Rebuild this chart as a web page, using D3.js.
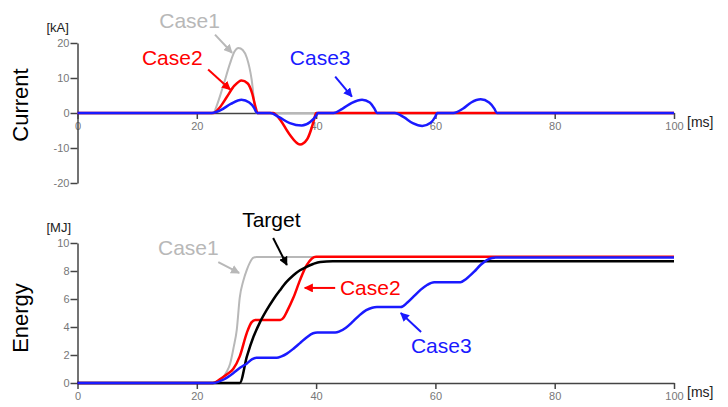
<!DOCTYPE html>
<html>
<head>
<meta charset="utf-8">
<script src="https://cdn.jsdelivr.net/npm/d3@7"></script>
<style>
  body { margin: 0; background: #fff; }
  svg { display: block; font-family: "Liberation Sans", Arial, sans-serif; }
  .tick text { fill: #777; font-size: 11px; }
  .domain, .tick line { stroke: #444; stroke-width: 1.5; }
</style>
</head>
<body>
<div id="chart"></div>
<script>
// time axis [ms]
const timeTicks = [0, 20, 40, 60, 80, 100];
const currentTicks = [-20, -10, 0, 10, 20];
const energyTicks = [0, 2, 4, 6, 8, 10];

// current [kA] as [ms, kA]
const case1Current = [[0,0],[22.8,0],[23.3,1.9],[24.4,7.6],[25.6,14.3],[26.3,17.5],[27,18.6],[27.7,18],[28.4,15.7],[29.2,9.5],[29.8,1],[30,0],[100,0]];
const case2Current = [[0,0],[22.8,0],[23.8,1.5],[25,4.5],[26.3,7.8],[27.5,9.3],[28.5,8.5],[29.3,5.5],[29.8,2],[30.2,0],[32.8,0],[34,-2],[35.5,-6],[37.3,-9],[38.5,-7.5],[39.3,-4],[39.8,-1],[40,0],[100,0]];
const case3Current = [[0,0],[22.5,0],[24,0.8],[25.7,2.6],[27.5,3.8],[28.8,3],[29.6,1.5],[30.1,0],[32.3,0],[33.8,-1.2],[35.6,-2.9],[37.6,-3.6],[39,-2.6],[40,-0.8],[40.3,0],[42.9,0],[44.4,1.2],[46,2.9],[47.7,3.8],[49,3],[49.8,1.2],[50.2,0],[53.2,0],[54.7,-1.2],[56.2,-2.9],[57.8,-3.7],[59.2,-2.8],[60,-1],[60.3,0],[63,0],[64.6,1.2],[66,3],[67.6,3.9],[69,3],[69.9,1.2],[70.3,0],[100,0]];

// energy [MJ] as [ms, MJ]
const case1Energy = [[0,0],[22.7,0],[23.5,0.15],[24.4,0.4],[25,0.8],[25.6,1.4],[26.2,2.6],[26.7,3.8],[27.2,6.1],[27.8,7.3],[28.4,8.1],[28.9,8.6],[29.5,8.95],[30,9],[100,9]];
const case2Energy = [[0,0],[22.7,0],[24,0.3],[25,0.6],[26.1,1.0],[27.2,1.9],[28.4,3.6],[29.2,4.35],[29.8,4.5],[34,4.5],[34.6,4.7],[35.1,5.1],[36.2,6.1],[37.3,7.35],[38.4,8.4],[39.3,8.9],[40,9.02],[100,9.02]];
const targetEnergy = [[0,0],[27.2,0],[28.4,1.9],[29.5,3.3],[30.6,4.35],[31.7,5.2],[32.8,5.95],[33.9,6.6],[35,7.2],[36.2,7.7],[37.3,8.05],[38.4,8.3],[39.5,8.5],[40.7,8.65],[42.8,8.7],[100,8.7]];
const case3Energy = [[0,0],[22.7,0],[24.5,0.25],[26.1,0.7],[27.3,1.1],[28.4,1.4],[29.3,1.7],[30,1.8],[33.4,1.8],[34.2,1.9],[35.1,2.1],[36.2,2.45],[37.3,2.85],[38.4,3.25],[39.5,3.55],[40.2,3.6],[43.2,3.6],[44,3.7],[45,3.95],[46.2,4.4],[47.3,4.85],[48.4,5.2],[49.4,5.38],[50.2,5.42],[54.2,5.42],[55.3,5.75],[56.4,6.2],[57.5,6.65],[58.6,7.0],[59.8,7.2],[64.2,7.2],[65.2,7.45],[66.5,7.95],[67.6,8.45],[68.7,8.8],[69.5,8.93],[70.1,8.97],[100,8.97]];

const width = 728, height = 407;
const colors = { case1: "#b8b8b8", case2: "#ff0000", case3: "#1a1aff", target: "#000" };

const svg = d3.select("#chart").append("svg")
  .attr("width", width).attr("height", height);

// arrow heads, one per colour
const defs = svg.append("defs");
Object.entries(colors).forEach(([k, c]) => {
  defs.append("marker")
    .attr("id", "head-" + k)
    .attr("viewBox", "0 0 10 10")
    .attr("refX", 9).attr("refY", 5)
    .attr("markerWidth", 4.5).attr("markerHeight", 4.5)
    .attr("markerUnits", "strokeWidth")
    .attr("orient", "auto")
    .append("path").attr("d", "M0,0L10,5L0,10z").attr("fill", c);
});

const x = d3.scaleLinear().domain([0, 100]).range([77.5, 674]);
const yCur = d3.scaleLinear().domain([-20, 20]).range([183, 43]);
const yEn = d3.scaleLinear().domain([0, 10]).range([383, 243]);

function panel(y, yTicks, series, unit, label, labelY, notes) {
  const g = svg.append("g");

  g.append("g")
    .attr("transform", `translate(0,${y(0)})`)
    .call(d3.axisBottom(x).tickValues(timeTicks).tickFormat(d => String(d))
      .tickSize(6).tickPadding(3).tickSizeOuter(0));

  g.append("g")
    .attr("transform", `translate(${x(0)},0)`)
    .call(d3.axisLeft(y).tickValues(yTicks).tickFormat(d => String(d))
      .tickSize(7).tickPadding(1).tickSizeOuter(0));

  const line = d3.line().x(d => x(d[0])).y(d => y(d[1])).curve(d3.curveMonotoneX);

  g.selectAll("path.series")
    .data(series)
    .join("path")
    .attr("class", "series")
    .attr("d", d => line(d.values))
    .attr("fill", "none")
    .attr("stroke", d => colors[d.key])
    .attr("stroke-width", d => d.key === "case1" ? 2 : 2.5)
    .attr("stroke-linejoin", "round");

  g.append("text")
    .attr("x", x(0) - 31).attr("y", y(yTicks[yTicks.length - 1]) - 11)
    .attr("font-size", 13).attr("fill", "#222")
    .text(unit);

  g.append("text")
    .attr("x", x(100) + 13).attr("y", y(0) + 14)
    .attr("font-size", 14).attr("fill", "#222")
    .text("[ms]");

  g.append("text")
    .attr("transform", `translate(28,${labelY}) rotate(-90)`)
    .attr("text-anchor", "middle")
    .attr("font-size", 22).attr("fill", "#000")
    .text(label);

  notes.forEach(n => {
    g.append("line")
      .attr("x1", x(n.from[0])).attr("y1", y(n.from[1]))
      .attr("x2", x(n.to[0])).attr("y2", y(n.to[1]))
      .attr("stroke", colors[n.key]).attr("stroke-width", 2)
      .attr("marker-end", `url(#head-${n.key})`);
    g.append("text")
      .attr("x", x(n.text[0])).attr("y", y(n.text[1]))
      .attr("font-size", 21).attr("fill", colors[n.key])
      .text(n.label);
  });
}

panel(yCur, currentTicks, [
  { key: "case1", values: case1Current },
  { key: "case2", values: case2Current },
  { key: "case3", values: case3Current }
], "[kA]", "Current", 105, [
  { key: "case1", label: "Case1", text: [13.7, 24.4], from: [23.05, 22.4], to: [25.9, 17.2] },
  { key: "case2", label: "Case2", text: [10.8, 13.8], from: [21.9, 12.4], to: [25.6, 6.7] },
  { key: "case3", label: "Case3", text: [35.6, 13.8], from: [43.2, 10.4], to: [46, 4.7] }
]);

panel(yEn, energyTicks, [
  { key: "case1", values: case1Energy },
  { key: "case2", values: case2Energy },
  { key: "target", values: targetEnergy },
  { key: "case3", values: case3Energy }
], "[MJ]", "Energy", 318, [
  { key: "target", label: "Target", text: [27.6, 11.14], from: [32.8, 10.36], to: [35.1, 8.43] },
  { key: "case1", label: "Case1", text: [13.5, 9.14], from: [23.6, 8.64], to: [27.1, 7.86] },
  { key: "case2", label: "Case2", text: [44, 6.29], from: [43.2, 6.79], to: [38.1, 6.79] },
  { key: "case3", label: "Case3", text: [55.9, 2.14], from: [57.6, 3.64], to: [54.2, 5.0] }
]);
</script>
</body>
</html>
